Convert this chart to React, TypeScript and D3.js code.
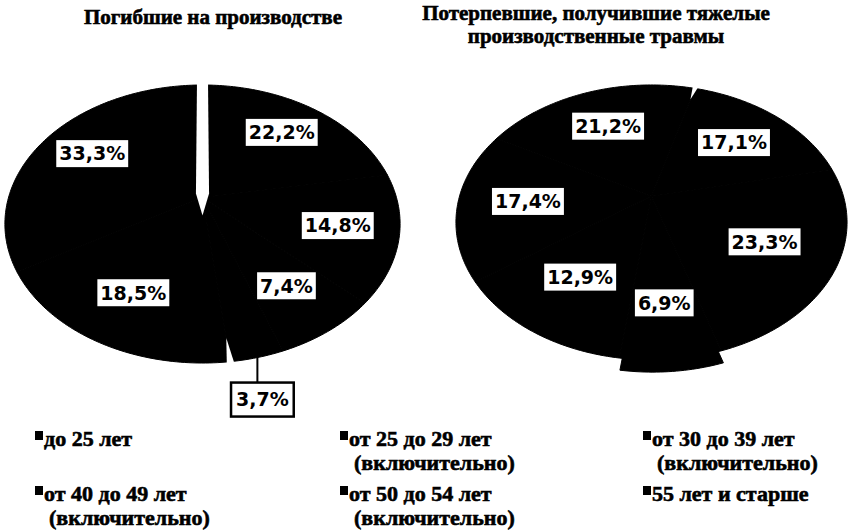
import React from 'react';
import * as d3 from 'd3';

// age groups (legend order)
const categories = [
  'до 25 лет',
  'от 25 до 29 лет (включительно)',
  'от 30 до 39 лет (включительно)',
  'от 40 до 49 лет (включительно)',
  'от 50 до 54 лет (включительно)',
  '55 лет и старше',
];

// shares, %, clockwise from the first slice
const deathsValues = [22.2, 14.8, 7.4, 3.7, 18.5, 33.3];
const injuredValues = [17.1, 23.3, 6.9, 12.9, 17.4, 21.2];

const deathsTitle = ['Погибшие на производстве'];
const injuredTitle = ['Потерпевшие, получившие тяжелые', 'производственные травмы'];

const W = 848;
const H = 532;
const serif = '"Liberation Serif", "Times New Roman", serif';
const sans = '"DejaVu Sans", Arial, sans-serif';

interface Geo { cx: number; cy: number; rx: number; ry: number; p: number; }
interface Gap { boundary: number; kind: 'band' | 'notch'; }

interface PieProps {
  values: number[];
  geo: Geo;
  startAngle: number;
  explode?: { index: number; dist: number };
  gaps: Gap[];
  labelR: number;
}

// tilted disc with a little perspective: far edge smaller, near edge bigger
const project = (g: Geo, u: number, v: number): [number, number] => {
  const s = 1 / (1 - g.p * v);
  return [g.cx + g.rx * u * s, g.cy + g.ry * v * s];
};
const polar = (g: Geo, r: number, a: number, off: [number, number] = [0, 0]) =>
  project(g, r * Math.sin(a) + off[0], -r * Math.cos(a) + off[1]);

const fmt = (v: number) => v.toFixed(1).replace('.', ',') + '%';
const charW: Record<string, number> = { ',': 0.38, '%': 1.002 };
const textWidth = (t: string, size: number) =>
  t.split('').reduce((s, c) => s + (charW[c] ?? 0.696), 0) * size;

const line = d3.line().curve(d3.curveLinearClosed);

const Pie3D: React.FC<PieProps> = ({ values, geo, startAngle, explode, gaps, labelR }) => {
  const arcs = d3.pie<number>().sort(null).value(d => d)
    .startAngle(startAngle).endAngle(startAngle + 2 * Math.PI)(values);

  const slicePath = (a0: number, a1: number, off: [number, number]) => {
    const n = Math.max(4, Math.ceil(((a1 - a0) * 180) / Math.PI));
    const pts: [number, number][] = [project(geo, off[0], off[1])];
    d3.range(n + 1).forEach(i => pts.push(polar(geo, 1, a0 + ((a1 - a0) * i) / n, off)));
    return line(pts) ?? '';
  };

  const offsetOf = (i: number): [number, number] => {
    if (!explode || explode.index !== i) return [0, 0];
    const m = (arcs[i].startAngle + arcs[i].endAngle) / 2;
    return [explode.dist * Math.sin(m), -explode.dist * Math.cos(m)];
  };

  const gapPath = (gp: Gap) => {
    const a = arcs[gp.boundary].startAngle;
    const d = [Math.sin(a), -Math.cos(a)];
    const n = [Math.cos(a), Math.sin(a)];
    const pt = (r: number, w: number) => project(geo, d[0] * r + n[0] * w, d[1] * r + n[1] * w);
    if (gp.kind === 'band') {
      const hw = 0.034;
      return line([pt(-0.13, 0), pt(0.03, hw), pt(1.1, hw), pt(1.1, -hw), pt(0.03, -hw)]) ?? '';
    }
    return line([pt(0.88, 0), pt(1.06, 0.022), pt(1.06, -0.022)]) ?? '';
  };

  const fs = 19;
  return (
    <g>
      {arcs.map((a, i) => (
        <path key={`s${i}`} d={slicePath(a.startAngle, a.endAngle, [0, 0])}
          fill="#000" stroke="#000" strokeWidth={1} strokeLinejoin="round" />
      ))}
      {explode && (
        <path d={slicePath(arcs[explode.index].startAngle, arcs[explode.index].endAngle, offsetOf(explode.index))}
          fill="#000" stroke="#000" strokeWidth={1} />
      )}
      {gaps.map((gp, i) => (
        <path key={`g${i}`} d={gapPath(gp)} fill="#fff" />
      ))}
      {arcs.map((a, i) => {
        const m = (a.startAngle + a.endAngle) / 2;
        const t = fmt(a.data);
        const tw = textWidth(t, fs);
        if (a.data < 5) {
          // small slice: label outside with a leader line
          const [ex, ey] = polar(geo, 1, m, offsetOf(i));
          const top = ey + 25;
          const bw = tw + 10;
          return (
            <g key={`l${i}`}>
              <line x1={ex} y1={ey - 2} x2={ex} y2={top} stroke="#000" strokeWidth={2} />
              <rect x={ex - bw / 2 + 5} y={top} width={bw} height={34} fill="#fff" stroke="#000" strokeWidth={2.5} />
              <text x={ex + 5} y={top + 17} dy=".36em" textAnchor="middle" fontFamily={sans}
                fontWeight="bold" fontSize={fs} fill="#000">{t}</text>
            </g>
          );
        }
        const off = offsetOf(i);
        const [lx, ly] = polar(geo, labelR, m, off);
        const bw = tw + 6;
        return (
          <g key={`l${i}`}>
            <rect x={lx - bw / 2} y={ly - 13.5} width={bw} height={27} fill="#fff" />
            <text x={lx} y={ly} dy=".36em" textAnchor="middle" fontFamily={sans}
              fontWeight="bold" fontSize={fs} fill="#000">{t}</text>
          </g>
        );
      })}
    </g>
  );
};

const Title: React.FC<{ lines: string[]; x: number; y: number }> = ({ lines, x, y }) => (
  <text x={x} y={y} textAnchor="middle" fontFamily={serif} fontWeight="bold" fontSize={21}
    fill="#000" stroke="#000" strokeWidth={0.6}>
    {lines.map((l, i) => (
      <tspan key={i} x={x} dy={i === 0 ? 0 : 23}>{l}</tspan>
    ))}
  </text>
);

const legendCols = [35, 340, 643];
const legendRows = [446, 501];

const Legend: React.FC = () => (
  <g fontFamily={serif} fontWeight="bold" fontSize={22} fill="#000">
    {categories.map((c, i) => {
      const x = legendCols[i % 3];
      const y = legendRows[Math.floor(i / 3)];
      const [first, rest] = c.split(' (');
      return (
        <g key={c}>
          <rect x={x} y={y - 15} width={8} height={9} fill="#000" />
          <text x={x + 9} y={y} stroke="#000" strokeWidth={0.6}>{first}</text>
          {rest && (
            <text x={x + 14} y={y + 24} stroke="#000" strokeWidth={0.6}>{'(' + rest}</text>
          )}
        </g>
      );
    })}
  </g>
);

const App: React.FC = () => (
  <div style={{ position: 'absolute', left: 0, top: 0 }}>
    <svg width={W} height={H} style={{ display: 'block', background: '#fff' }}>
      <Title lines={deathsTitle} x={213} y={24} />
      <Title lines={injuredTitle} x={596} y={20} />
      <Pie3D
        values={deathsValues}
        geo={{ cx: 202.5, cy: 197.6, rx: 194, ry: 134, p: 0.19 }}
        startAngle={0}
        gaps={[{ boundary: 0, kind: 'band' }, { boundary: 4, kind: 'notch' }]}
        labelR={0.7}
      />
      <Pie3D
        values={injuredValues}
        geo={{ cx: 651.5, cy: 196.3, rx: 192, ry: 132.5, p: 0.19 }}
        startAngle={(15.5 * Math.PI) / 180}
        explode={{ index: 2, dist: 0.06 }}
        gaps={[{ boundary: 0, kind: 'notch' }]}
        labelR={0.64}
      />
      <Legend />
    </svg>
  </div>
);

export default App;
